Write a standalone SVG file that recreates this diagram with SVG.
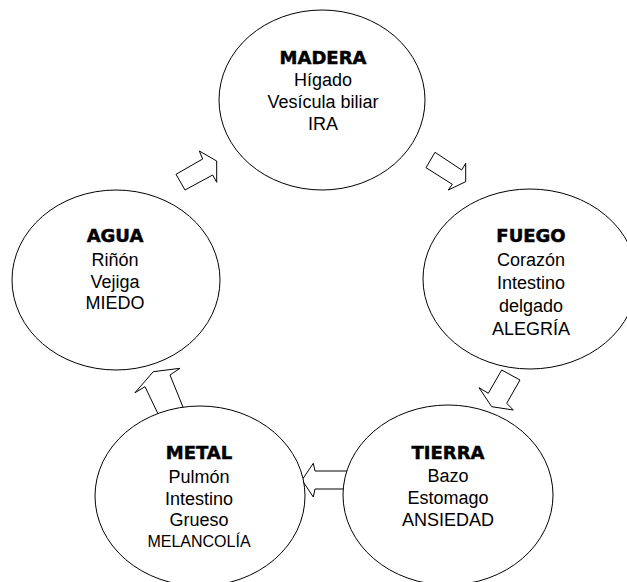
<svg xmlns="http://www.w3.org/2000/svg" width="627" height="582" viewBox="0 0 627 582">
<style>
  .bg { fill: #ffffff; }
  .node { fill: #ffffff; stroke: #000000; stroke-width: 1; }
  .arrow { fill: #ffffff; stroke: #000000; stroke-width: 1; stroke-linejoin: miter; }
  .title { font-family: "DejaVu Sans", "Liberation Sans", sans-serif; font-weight: bold; font-size: 18px; fill: #000; stroke: #000; stroke-width: 0.5; text-anchor: middle; }
  .txt { font-family: "Liberation Sans", Arial, sans-serif; font-size: 18px; fill: #000; text-anchor: middle; }
  .small { font-size: 16px; }
</style>
<rect class="bg" x="0" y="0" width="627" height="582"/>
<g id="connectors">
  <polygon class="arrow" points="199.3,151 202.7,159 176,174.3 185,190 212.7,175 216.7,182.3 216.7,161"/>
  <polygon class="arrow" points="435,152.3 461.7,170 465.7,163.3 465.7,181.7 448.3,190 452.3,184.3 426,167.7"/>
  <polygon class="arrow" points="501.7,370 520,380 506.7,403.3 513.3,410 491.7,406.7 479,387.7 488.3,393.3"/>
  <polygon class="arrow" points="302,480 313.3,463.3 315,471 360,471 360,489 315,489 313.3,497"/>
  <polygon class="arrow" points="153.3,371.7 180,368.3 170,375 185,412 160,418 145,386.7 135,392.7"/>
</g>
<g id="madera">
  <ellipse class="node" cx="322" cy="100" rx="103" ry="90"/>
  <text class="title" x="323" y="64">MADERA</text>
  <text class="txt" x="323" y="86">Hígado</text>
  <text class="txt" x="323" y="108">Vesícula biliar</text>
  <text class="txt" x="323" y="130">IRA</text>
</g>
<g id="fuego">
  <ellipse class="node" cx="530" cy="279" rx="107" ry="90"/>
  <text class="title" x="531" y="242">FUEGO</text>
  <text class="txt" x="531" y="266">Corazón</text>
  <text class="txt" x="531" y="289">Intestino</text>
  <text class="txt" x="531" y="312">delgado</text>
  <text class="txt" x="531" y="335">ALEGRÍA</text>
</g>
<g id="tierra">
  <ellipse class="node" cx="448" cy="495" rx="105" ry="90"/>
  <text class="title" x="448" y="459">TIERRA</text>
  <text class="txt" x="448" y="482">Bazo</text>
  <text class="txt" x="448" y="504">Estomago</text>
  <text class="txt" x="448" y="526">ANSIEDAD</text>
</g>
<g id="metal">
  <ellipse class="node" cx="200" cy="496" rx="105" ry="90"/>
  <text class="title" x="199" y="459">METAL</text>
  <text class="txt" x="199" y="483">Pulmón</text>
  <text class="txt" x="199" y="505">Intestino</text>
  <text class="txt" x="199" y="526">Grueso</text>
  <text class="txt small" x="199" y="547">MELANCOLÍA</text>
</g>
<g id="agua">
  <ellipse class="node" cx="116" cy="280" rx="104" ry="90"/>
  <text class="title" x="115" y="242">AGUA</text>
  <text class="txt" x="115" y="266">Riñón</text>
  <text class="txt" x="115" y="288">Vejiga</text>
  <text class="txt" x="115" y="309">MIEDO</text>
</g>
</svg>
